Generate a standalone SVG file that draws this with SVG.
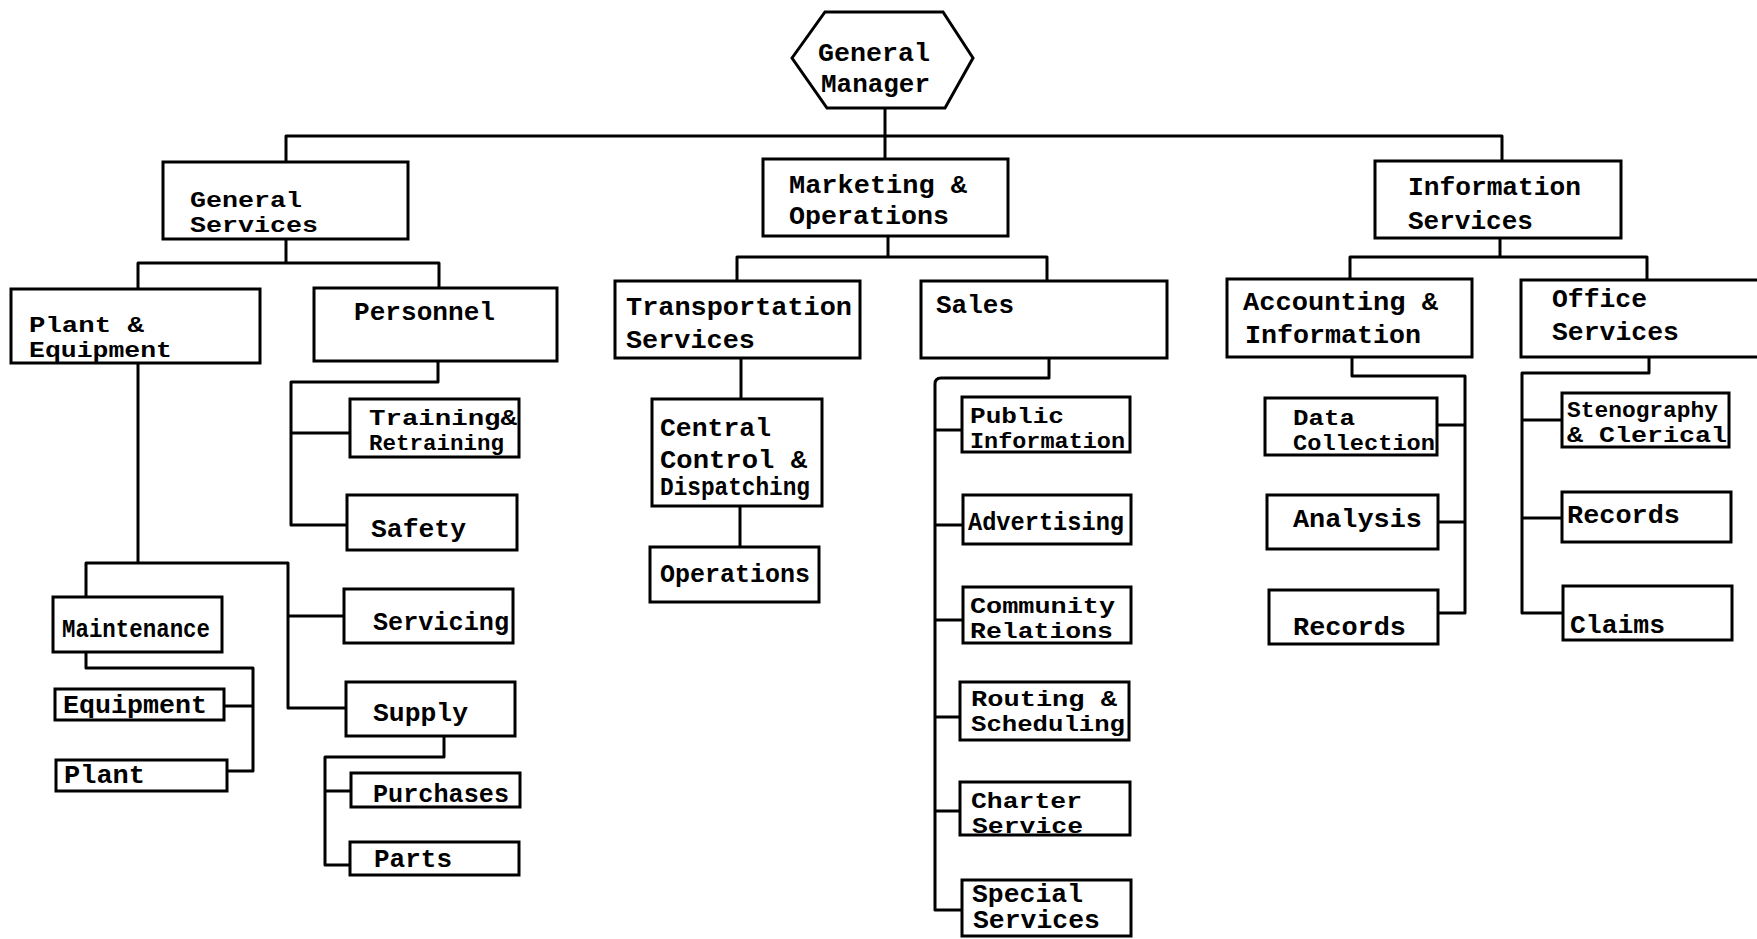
<svg xmlns="http://www.w3.org/2000/svg" width="1757" height="939" viewBox="0 0 1757 939">
  <style>
    .box{fill:#fff;stroke:#000;stroke-width:3}
    .ln{fill:none;stroke:#000;stroke-width:3;stroke-linejoin:round}
    text{font-family:"Liberation Mono","DejaVu Sans Mono",monospace;font-weight:bold;font-size:25px;fill:#000}
    text.sm{font-size:22px}
  </style>
  <rect width="1757" height="939" fill="#fff"/>

  <!-- connectors -->
  <g id="connectors" class="ln">
    <path d="M885,108 V159"/>
    <path d="M286,162 V136 H1502 V161"/>
    <path d="M286,239 V263"/>
    <path d="M138,289 V263 H439 V288"/>
    <path d="M888,236 V257"/>
    <path d="M737,281 V257 H1047 V281"/>
    <path d="M1500,238 V257"/>
    <path d="M1350,279 V257 H1647 V280"/>
    <path d="M138,363 V563"/>
    <path d="M86,597 V563 H288 V708 H346"/>
    <path d="M288,616 H344"/>
    <path d="M438,361 V382 H291 V525 H347"/>
    <path d="M291,433 H350"/>
    <path d="M86,652 V668 H253 V771 H227"/>
    <path d="M253,706 H224"/>
    <path d="M444,736 V757 H325 V865 H350"/>
    <path d="M325,791 H351"/>
    <path d="M741,358 V399"/>
    <path d="M740,506 V547"/>
    <path d="M1049,358 V378 H941 Q935,378 935,384 V910 H962"/>
    <path d="M935,430 H962"/>
    <path d="M935,525 H963"/>
    <path d="M935,620 H963"/>
    <path d="M935,717 H960"/>
    <path d="M935,811 H960"/>
    <path d="M1352,357 V376 H1465 V613 H1438"/>
    <path d="M1437,425 H1465"/>
    <path d="M1438,522 H1465"/>
    <path d="M1649,357 V373 H1522 V613 H1563"/>
    <path d="M1522,420 H1562"/>
    <path d="M1522,518 H1562"/>
  </g>

  <!-- top -->
  <g id="general-manager">
    <polygon class="box" points="792,58 825,12 943,12 973,58 945,108 827,108"/>
    <text x="818" y="61" textLength="112" lengthAdjust="spacingAndGlyphs">General</text>
    <text x="821" y="92" textLength="109" lengthAdjust="spacingAndGlyphs">Manager</text>
  </g>

  <!-- divisions -->
  <g id="general-services">
    <rect class="box" x="163" y="162" width="245" height="77"/>
    <text class="sm" x="190" y="207" textLength="112" lengthAdjust="spacingAndGlyphs">General</text>
    <text class="sm" x="190" y="232" textLength="128" lengthAdjust="spacingAndGlyphs">Services</text>
  </g>
  <g id="marketing-operations">
    <rect class="box" x="763" y="159" width="245" height="77"/>
    <text x="789" y="193" textLength="178" lengthAdjust="spacingAndGlyphs">Marketing &amp;</text>
    <text x="789" y="224" textLength="160" lengthAdjust="spacingAndGlyphs">Operations</text>
  </g>
  <g id="information-services">
    <rect class="box" x="1375" y="161" width="246" height="77"/>
    <text x="1408" y="195" textLength="173" lengthAdjust="spacingAndGlyphs">Information</text>
    <text x="1408" y="229" textLength="125" lengthAdjust="spacingAndGlyphs">Services</text>
  </g>

  <!-- departments -->
  <g id="plant-equipment">
    <rect class="box" x="11" y="289" width="249" height="74"/>
    <text class="sm" x="29" y="332" textLength="115" lengthAdjust="spacingAndGlyphs">Plant &amp;</text>
    <text class="sm" x="29" y="357" textLength="143" lengthAdjust="spacingAndGlyphs">Equipment</text>
  </g>
  <g id="personnel">
    <rect class="box" x="314" y="288" width="243" height="73"/>
    <text x="354" y="320" textLength="141" lengthAdjust="spacingAndGlyphs">Personnel</text>
  </g>
  <g id="transportation-services">
    <rect class="box" x="615" y="281" width="245" height="77"/>
    <text x="626" y="315" textLength="226" lengthAdjust="spacingAndGlyphs">Transportation</text>
    <text x="626" y="348" textLength="129" lengthAdjust="spacingAndGlyphs">Services</text>
  </g>
  <g id="sales">
    <rect class="box" x="921" y="281" width="246" height="77"/>
    <text x="936" y="313" textLength="78" lengthAdjust="spacingAndGlyphs">Sales</text>
  </g>
  <g id="accounting-information">
    <rect class="box" x="1227" y="279" width="245" height="78"/>
    <text x="1243" y="310" textLength="195" lengthAdjust="spacingAndGlyphs">Accounting &amp;</text>
    <text x="1245" y="343" textLength="176" lengthAdjust="spacingAndGlyphs">Information</text>
  </g>
  <g id="office-services">
    <rect class="box" x="1521" y="280" width="249" height="77"/>
    <text x="1552" y="307" textLength="95" lengthAdjust="spacingAndGlyphs">Office</text>
    <text x="1552" y="340" textLength="127" lengthAdjust="spacingAndGlyphs">Services</text>
  </g>

  <!-- sections: general services -->
  <g id="training-retraining">
    <rect class="box" x="350" y="399" width="169" height="58"/>
    <text class="sm" x="369" y="425" textLength="148" lengthAdjust="spacingAndGlyphs">Training&amp;</text>
    <text class="sm" x="369" y="450" textLength="135" lengthAdjust="spacingAndGlyphs">Retraining</text>
  </g>
  <g id="safety">
    <rect class="box" x="347" y="495" width="170" height="55"/>
    <text x="371" y="537" textLength="95" lengthAdjust="spacingAndGlyphs">Safety</text>
  </g>
  <g id="maintenance">
    <rect class="box" x="53" y="597" width="169" height="55"/>
    <text x="62" y="637" textLength="148" lengthAdjust="spacingAndGlyphs">Maintenance</text>
  </g>
  <g id="servicing">
    <rect class="box" x="344" y="589" width="169" height="54"/>
    <text x="373" y="630" textLength="136" lengthAdjust="spacingAndGlyphs">Servicing</text>
  </g>
  <g id="equipment">
    <rect class="box" x="55" y="689" width="169" height="31"/>
    <text x="63" y="713" textLength="144" lengthAdjust="spacingAndGlyphs">Equipment</text>
  </g>
  <g id="plant">
    <rect class="box" x="56" y="760" width="171" height="31"/>
    <text x="64" y="783" textLength="81" lengthAdjust="spacingAndGlyphs">Plant</text>
  </g>
  <g id="supply">
    <rect class="box" x="346" y="682" width="169" height="54"/>
    <text x="373" y="721" textLength="95" lengthAdjust="spacingAndGlyphs">Supply</text>
  </g>
  <g id="purchases">
    <rect class="box" x="351" y="773" width="169" height="34"/>
    <text x="373" y="802" textLength="136" lengthAdjust="spacingAndGlyphs">Purchases</text>
  </g>
  <g id="parts">
    <rect class="box" x="350" y="842" width="169" height="33"/>
    <text x="374" y="867" textLength="78" lengthAdjust="spacingAndGlyphs">Parts</text>
  </g>

  <!-- sections: marketing & operations -->
  <g id="central-control">
    <rect class="box" x="652" y="399" width="170" height="107"/>
    <text x="660" y="436" textLength="111" lengthAdjust="spacingAndGlyphs">Central</text>
    <text x="660" y="468" textLength="147" lengthAdjust="spacingAndGlyphs">Control &amp;</text>
    <text x="660" y="495" textLength="150" lengthAdjust="spacingAndGlyphs">Dispatching</text>
  </g>
  <g id="operations">
    <rect class="box" x="650" y="547" width="169" height="55"/>
    <text x="660" y="582" textLength="150" lengthAdjust="spacingAndGlyphs">Operations</text>
  </g>
  <g id="public-information">
    <rect class="box" x="962" y="397" width="168" height="55"/>
    <text class="sm" x="970" y="423" textLength="94" lengthAdjust="spacingAndGlyphs">Public</text>
    <text class="sm" x="970" y="448" textLength="155" lengthAdjust="spacingAndGlyphs">Information</text>
  </g>
  <g id="advertising">
    <rect class="box" x="963" y="495" width="168" height="49"/>
    <text x="968" y="530" textLength="156" lengthAdjust="spacingAndGlyphs">Advertising</text>
  </g>
  <g id="community-relations">
    <rect class="box" x="963" y="587" width="168" height="56"/>
    <text class="sm" x="970" y="613" textLength="145" lengthAdjust="spacingAndGlyphs">Community</text>
    <text class="sm" x="970" y="638" textLength="143" lengthAdjust="spacingAndGlyphs">Relations</text>
  </g>
  <g id="routing-scheduling">
    <rect class="box" x="960" y="682" width="169" height="58"/>
    <text class="sm" x="971" y="706" textLength="146" lengthAdjust="spacingAndGlyphs">Routing &amp;</text>
    <text class="sm" x="971" y="731" textLength="154" lengthAdjust="spacingAndGlyphs">Scheduling</text>
  </g>
  <g id="charter-service">
    <rect class="box" x="960" y="782" width="170" height="53"/>
    <text class="sm" x="971" y="808" textLength="111" lengthAdjust="spacingAndGlyphs">Charter</text>
    <text class="sm" x="972" y="833" textLength="111" lengthAdjust="spacingAndGlyphs">Service</text>
  </g>
  <g id="special-services">
    <rect class="box" x="962" y="880" width="169" height="56"/>
    <text x="972" y="902" textLength="111" lengthAdjust="spacingAndGlyphs">Special</text>
    <text x="973" y="928" textLength="127" lengthAdjust="spacingAndGlyphs">Services</text>
  </g>

  <!-- sections: information services -->
  <g id="data-collection">
    <rect class="box" x="1265" y="398" width="172" height="57"/>
    <text class="sm" x="1293" y="425" textLength="62" lengthAdjust="spacingAndGlyphs">Data</text>
    <text class="sm" x="1293" y="450" textLength="142" lengthAdjust="spacingAndGlyphs">Collection</text>
  </g>
  <g id="analysis">
    <rect class="box" x="1267" y="495" width="171" height="54"/>
    <text x="1293" y="527" textLength="129" lengthAdjust="spacingAndGlyphs">Analysis</text>
  </g>
  <g id="records-accounting">
    <rect class="box" x="1269" y="590" width="169" height="54"/>
    <text x="1293" y="635" textLength="113" lengthAdjust="spacingAndGlyphs">Records</text>
  </g>
  <g id="stenography-clerical">
    <rect class="box" x="1562" y="393" width="167" height="54"/>
    <text class="sm" x="1567" y="417" textLength="151" lengthAdjust="spacingAndGlyphs">Stenography</text>
    <text class="sm" x="1567" y="442" textLength="160" lengthAdjust="spacingAndGlyphs">&amp; Clerical</text>
  </g>
  <g id="records-office">
    <rect class="box" x="1562" y="492" width="169" height="50"/>
    <text x="1567" y="523" textLength="113" lengthAdjust="spacingAndGlyphs">Records</text>
  </g>
  <g id="claims">
    <rect class="box" x="1563" y="586" width="169" height="54"/>
    <text x="1570" y="633" textLength="95" lengthAdjust="spacingAndGlyphs">Claims</text>
  </g>
</svg>
